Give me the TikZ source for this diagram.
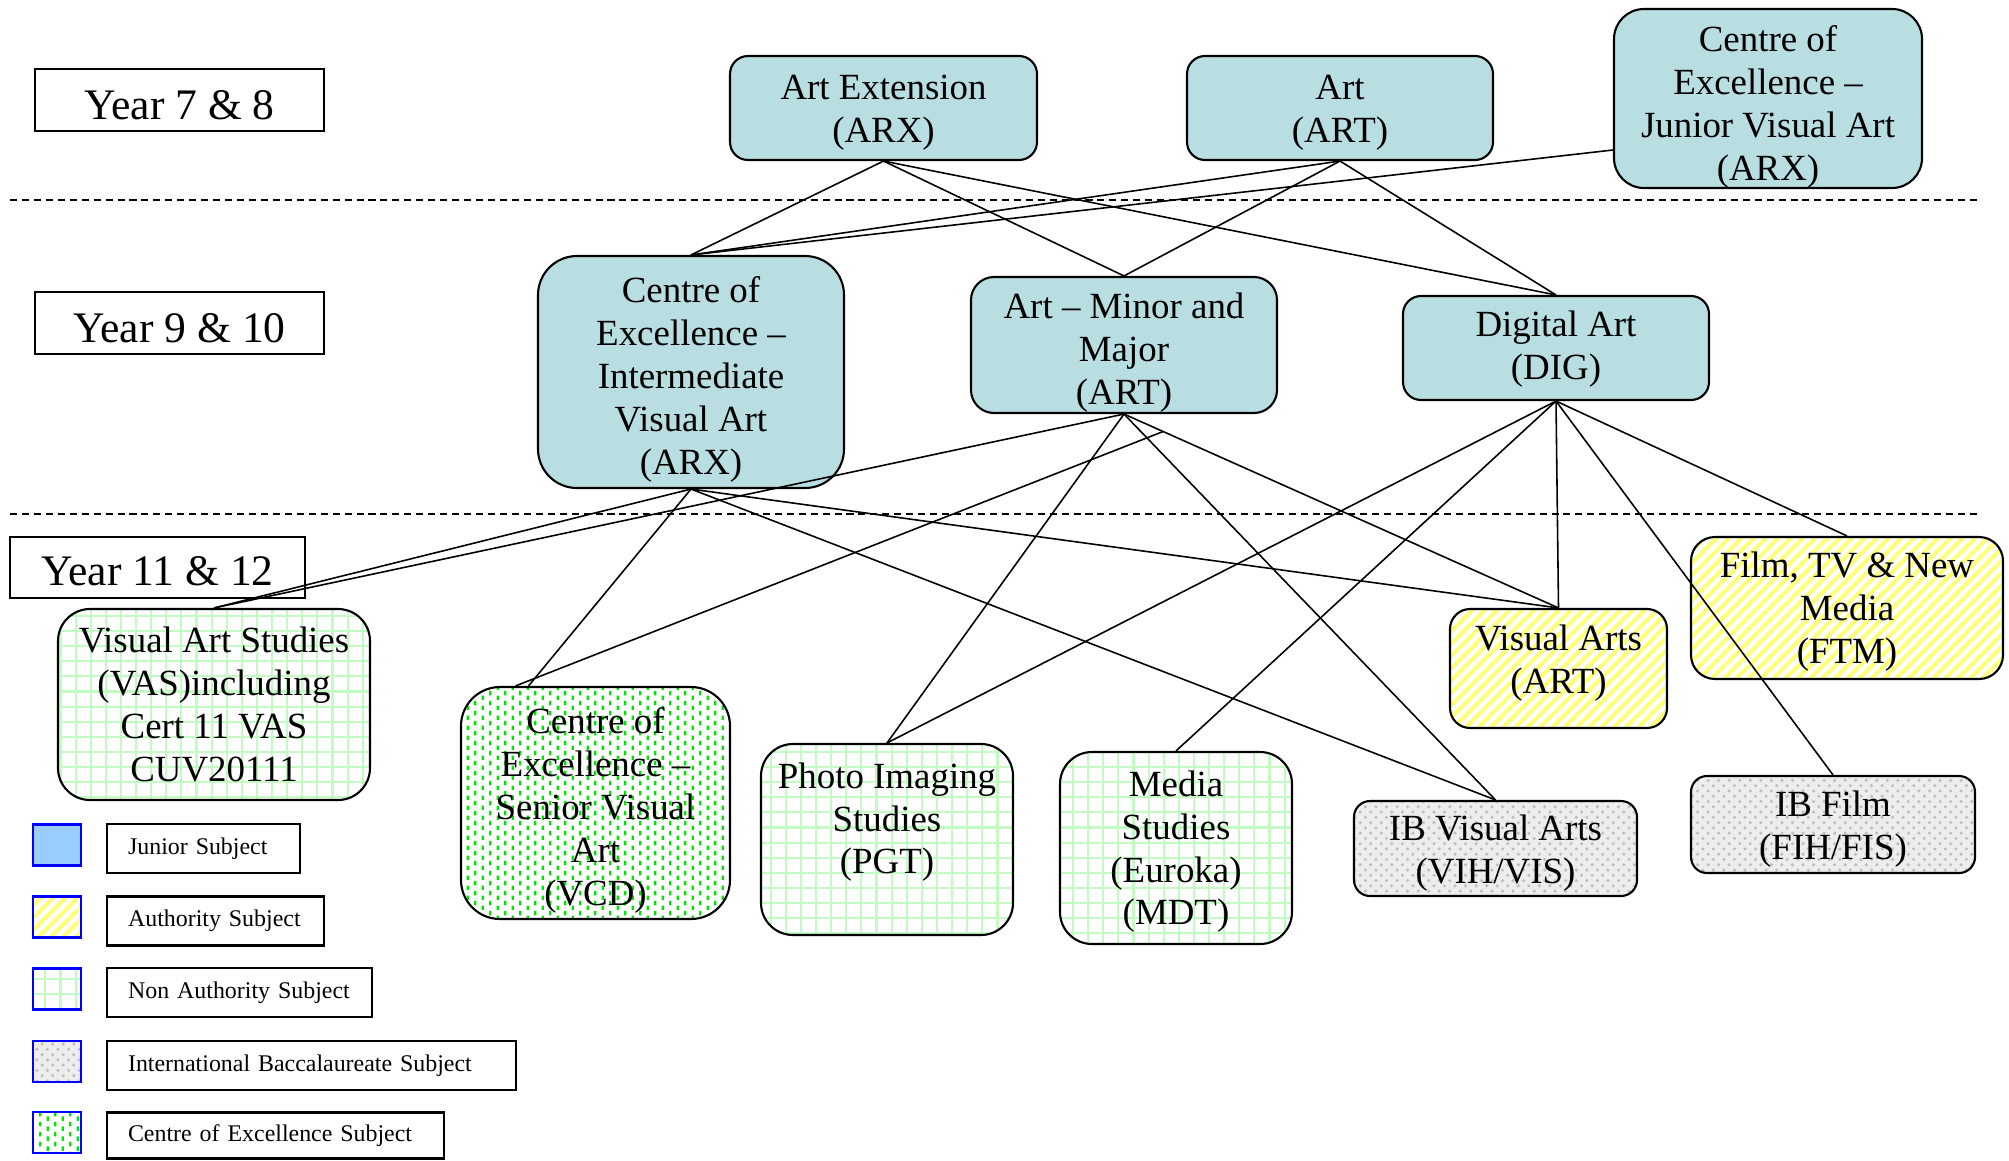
\documentclass[tikz,border=0pt]{standalone}
\usepackage{fontspec}
\setmainfont{Liberation Serif}
\usetikzlibrary{patterns,calc}

\definecolor{juniorteal}{RGB}{184,222,226}
\definecolor{juniorblue}{RGB}{153,204,255}
\definecolor{stripeyellow}{RGB}{255,255,120}
\definecolor{gridgreen}{RGB}{196,250,196}
\definecolor{dashgreen}{RGB}{0,230,0}

% text of a box, moved up or down inside it
\newcommand{\celltext}[2]{\raisebox{#1}[\height][\depth]{\begin{tabular}{@{}c@{}}#2\end{tabular}}}

% fills of the subject kinds
\pgfdeclarepatternformonly{authstripes}{\pgfqpoint{-1pt}{-1pt}}{\pgfqpoint{4.5pt}{4.5pt}}{\pgfqpoint{3.5pt}{3.5pt}}{%
  \pgfsetlinewidth{1.15pt}%
  \pgfpathmoveto{\pgfqpoint{0pt}{0pt}}%
  \pgfpathlineto{\pgfqpoint{3.6pt}{3.6pt}}%
  \pgfusepath{stroke}}
\pgfdeclarepatternformonly{nagrid}{\pgfqpoint{-0.5pt}{-0.5pt}}{\pgfqpoint{4.8pt}{4.8pt}}{\pgfqpoint{4.3pt}{4.3pt}}{%
  \pgfsetlinewidth{0.6pt}%
  \pgfpathmoveto{\pgfqpoint{0pt}{-0.5pt}}\pgfpathlineto{\pgfqpoint{0pt}{4.8pt}}%
  \pgfpathmoveto{\pgfqpoint{-0.5pt}{0pt}}\pgfpathlineto{\pgfqpoint{4.8pt}{0pt}}%
  \pgfusepath{stroke}}
\pgfdeclarepatternformonly{coedash}{\pgfpointorigin}{\pgfqpoint{4.26pt}{2.85pt}}{\pgfqpoint{4.26pt}{2.85pt}}{%
  \pgfsetlinewidth{0.6pt}%
  \pgfpathmoveto{\pgfqpoint{1.06pt}{0.0pt}}\pgfpathlineto{\pgfqpoint{1.06pt}{1.4pt}}%
  \pgfpathmoveto{\pgfqpoint{3.2pt}{1.42pt}}\pgfpathlineto{\pgfqpoint{3.2pt}{2.82pt}}%
  \pgfusepath{stroke}}

\begin{document}
\begin{tikzpicture}[
    every node/.style={font=\fontsize{10.5}{12.2}\selectfont, align=center, inner sep=1pt},
    box/.style={draw, line width=0.6pt},
    jrbox/.style={box, fill=juniorteal},
    authbox/.style={box, pattern=authstripes, pattern color=stripeyellow},
    nabox/.style={box, pattern=nagrid, pattern color=gridgreen},
    ibbox/.style={box, preaction={fill=gray!14}, pattern=crosshatch dots, pattern color=gray!50},
    coebox/.style={box, pattern=coedash, pattern color=dashgreen},
    yearbox/.style={draw, line width=0.6pt, font=\fontsize{12.4}{14}\selectfont},
    swatch/.style={draw=blue, line width=0.6pt, minimum width=0.48cm, minimum height=0.41cm},
    legbox/.style={draw, line width=0.6pt, anchor=west, minimum height=0.49cm, inner xsep=0.21cm, align=left, font=\fontsize{6.8}{8}\selectfont},
    link/.style={line width=0.45pt},
    divider/.style={line width=0.6pt, dash pattern=on 2pt off 1.4pt}
  ]
  \useasboundingbox (0,0) rectangle (20.09,-11.60);

  \draw[divider] (0.10,-2.00) -- (19.80,-2.00);
  \draw[divider] (0.10,-5.14) -- (19.80,-5.14);

  % year levels
  \node[yearbox, minimum width=2.89cm, minimum height=0.62cm] (yr78) at (1.795,-1.00) {\celltext{-0.10cm}{Year 7 \& 8}};
  \node[yearbox, minimum width=2.89cm, minimum height=0.62cm] (yr910) at (1.795,-3.23) {\celltext{-0.10cm}{Year 9 \& 10}};
  \node[yearbox, minimum width=2.95cm, minimum height=0.61cm] (yr1112) at (1.575,-5.675) {\celltext{-0.08cm}{Year 11 \& 12}};

  % year 7 & 8
  \node[jrbox, minimum width=3.07cm, minimum height=1.04cm, rounded corners=0.18cm] (arx) at (8.835,-1.08) {\celltext{-0.04cm}{Art Extension\\(ARX)}};
  \node[jrbox, minimum width=3.06cm, minimum height=1.04cm, rounded corners=0.18cm] (art) at (13.40,-1.08) {\celltext{-0.04cm}{Art\\(ART)}};
  \node[jrbox, minimum width=3.08cm, minimum height=1.79cm, rounded corners=0.30cm] (coej) at (17.68,-0.985) {\celltext{-0.09cm}{Centre of\\Excellence –\\Junior Visual Art\\(ARX)}};

  % year 9 & 10
  \node[jrbox, minimum width=3.06cm, minimum height=2.32cm, rounded corners=0.39cm] (coei) at (6.91,-3.72) {\celltext{-0.08cm}{Centre of\\Excellence –\\Intermediate\\Visual Art\\(ARX)}};
  \node[jrbox, minimum width=3.06cm, minimum height=1.36cm, rounded corners=0.23cm] (artmm) at (11.24,-3.45) {\celltext{-0.08cm}{Art – Minor and\\Major\\(ART)}};
  \node[jrbox, minimum width=3.06cm, minimum height=1.04cm, rounded corners=0.18cm] (dig) at (15.56,-3.48) {\celltext{-0.01cm}{Digital Art\\(DIG)}};

  % year 11 & 12
  \node[nabox, minimum width=3.12cm, minimum height=1.91cm, rounded corners=0.32cm] (vas) at (2.14,-7.045) {\celltext{-0.04cm}{Visual Art Studies\\(VAS)including\\Cert 11 VAS\\CUV20111}};
  \node[coebox, minimum width=2.69cm, minimum height=2.32cm, rounded corners=0.39cm] (vcd) at (5.955,-8.03) {\celltext{-0.08cm}{Centre of\\Excellence –\\Senior Visual\\Art\\(VCD)}};
  \node[nabox, minimum width=2.52cm, minimum height=1.91cm, rounded corners=0.32cm] (pgt) at (8.87,-8.395) {\celltext{0.17cm}{Photo Imaging\\Studies\\(PGT)}};
  \node[nabox, minimum width=2.32cm, minimum height=1.92cm, rounded corners=0.32cm] (mdt) at (11.76,-8.48) {\celltext{-0.04cm}{Media\\Studies\\(Euroka)\\(MDT)}};
  \node[ibbox, minimum width=2.83cm, minimum height=0.95cm, rounded corners=0.16cm] (ibva) at (14.955,-8.485) {\celltext{-0.05cm}{IB Visual Arts\\(VIH/VIS)}};
  \node[ibbox, minimum width=2.84cm, minimum height=0.97cm, rounded corners=0.16cm] (ibfilm) at (18.33,-8.245) {\celltext{-0.05cm}{IB Film\\(FIH/FIS)}};
  \node[authbox, minimum width=2.17cm, minimum height=1.19cm, rounded corners=0.20cm] (vart) at (15.585,-6.685) {\celltext{0.05cm}{Visual Arts\\(ART)}};
  \node[authbox, minimum width=3.12cm, minimum height=1.42cm, rounded corners=0.24cm] (ftm) at (18.47,-6.08) {\celltext{-0.04cm}{Film, TV \& New\\Media\\(FTM)}};

  % pathways into year 9 & 10
  \draw[link] (arx.south) -- (coei.north);
  \draw[link] (arx.south) -- (artmm.north);
  \draw[link] (arx.south) -- (dig.north);
  \draw[link] (art.south) -- (coei.north);
  \draw[link] (art.south) -- (artmm.north);
  \draw[link] (art.south) -- (dig.north);
  \draw[link] ([yshift=-0.515cm]coej.west) -- (coei.north);

  % pathways into year 11 & 12
  \coordinate (mmfree) at ($(artmm.south)!0.09!(vart.north)$);
  \draw[link] (coei.south) -- (vas.north);
  \draw[link] (coei.south) -- ([xshift=-0.67cm]vcd.north);
  \draw[link] (coei.south) -- (vart.north);
  \draw[link] (coei.south) -- (ibva.north);
  \draw[link] (artmm.south) -- (vas.north);
  \draw[link] (artmm.south) -- (pgt.north);
  \draw[link] (artmm.south) -- (vart.north);
  \draw[link] (artmm.south) -- (ibva.north);
  \draw[link] (mmfree) -- ([xshift=-0.80cm]vcd.north);
  \draw[link] (dig.south) -- (pgt.north);
  \draw[link] (dig.south) -- (mdt.north);
  \draw[link] (dig.south) -- (vart.north);
  \draw[link] (dig.south) -- (ftm.north);
  \draw[link] (dig.south) -- (ibfilm.north);

  % legend
  \node[swatch, fill=juniorblue] (swjr) at (0.57,-8.45) {};
  \node[swatch, pattern=authstripes, pattern color=stripeyellow] (swauth) at (0.57,-9.17) {};
  \node[swatch, pattern=nagrid, pattern color=gridgreen] (swna) at (0.57,-9.89) {};
  \node[swatch, preaction={fill=gray!14}, pattern=crosshatch dots, pattern color=gray!50] (swib) at (0.57,-10.615) {};
  \node[swatch, pattern=coedash, pattern color=dashgreen] (swcoe) at (0.57,-11.325) {};
  \node[legbox, text width=1.51cm] (lgjr) at (1.06,-8.485) {Junior Subject};
  \node[legbox, text width=1.75cm] (lgauth) at (1.06,-9.21) {Authority Subject};
  \node[legbox, text width=2.23cm] (lgna) at (1.06,-9.925) {Non Authority Subject};
  \node[legbox, text width=3.67cm] (lgib) at (1.06,-10.655) {International Baccalaureate Subject};
  \node[legbox, text width=2.95cm, minimum height=0.46cm] (lgcoe) at (1.06,-11.355) {Centre of Excellence Subject};
\end{tikzpicture}
\end{document}
